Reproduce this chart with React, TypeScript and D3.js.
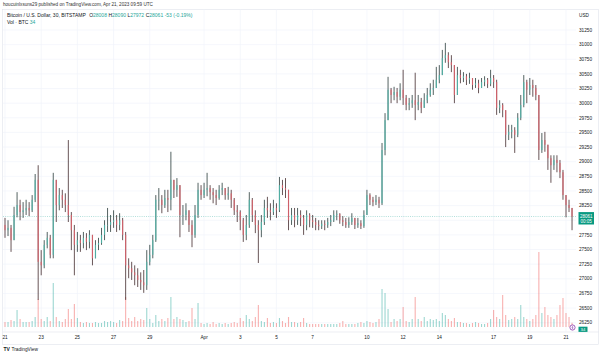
import React from "react";
import * as d3 from "d3";

const W = 600;
const H = 357;

const firstCandleTime = "2023-03-20T20:00:00Z";
const candleHours = 4;
const firstOpen = 27900;

const closes = [
  27920, 27830, 27870, 27660, 28090, 28260, 28140, 28170, 28210, 28170,
  28350, 28690, 27290, 27230, 27580, 27700, 27410, 28690, 28260, 28430,
  28350, 28260, 28090, 27830, 27580, 27660, 27610, 27700, 27630, 27750,
  27350, 27580, 27610, 27750, 27920, 27920, 27970, 28000, 27920, 28000,
  27750, 27230, 27180, 27110, 27060, 26980, 26940, 26890, 27290, 27410,
  27660, 28350, 28350, 28260, 28380, 28350, 28690, 28520, 28600, 28090,
  28090, 28170, 27920, 27750, 28090, 28520, 28430, 28520, 28550, 28480,
  28430, 28380, 28520, 28550, 28430, 28460, 28350, 28170, 28140, 28000,
  27750, 27920, 28350, 28090, 27920, 27830, 27970, 28210, 28170, 28140,
  28210, 28170, 28600, 28550, 28520, 28000, 28090, 28000, 28090, 28040,
  27920, 28090, 28000, 27970, 27920, 27900, 27940, 27920, 27970, 28000,
  28090, 28110, 28000, 27970, 27920, 27970, 28040, 27920, 27950, 27900,
  28090, 28430, 28350, 28310, 28350, 28290, 29200, 29710, 30230, 30140,
  30190, 30110, 30230, 30090, 29970, 30000, 30050, 29970, 30020, 29920,
  30050, 30140, 30230, 30260, 30400, 30480, 30770, 30820, 30700, 30650,
  30140, 30480, 30430, 30460, 30400, 30430, 30310, 30340, 30260, 30360,
  30400, 30330, 30430, 30360, 29920, 29970, 29880, 29460, 29510, 29540,
  29460, 29750, 29970, 30360, 30230, 30310, 30260, 30140, 29200, 29370,
  29290, 29060, 28940, 29030, 28980, 28820, 28430, 28260, 28210, 28061,
];

const highs = [
  28090, 28040, 28000, 27920, 28230, 28480, 28350, 28310, 28350, 28310,
  28430, 28790, 28940, 27490, 27660, 27800, 27750, 28810, 28600, 28550,
  28520, 28460, 29370, 28140, 27920, 27800, 27750, 27800, 27780, 27830,
  27750, 27660, 27700, 27870, 28000, 28210, 28090, 28170, 28090, 28120,
  28040, 27800, 27350, 27290, 27230, 27180, 27110, 27150, 27490, 27580,
  27750, 28430, 28550, 28430, 28520, 28520, 29170, 28690, 28720, 28520,
  28260, 28290, 28170, 28000, 28260, 28640, 28600, 28640, 28810, 28600,
  28550, 28520, 28600, 28640, 28550, 28570, 28520, 28380, 28260, 28170,
  28040, 28090, 28480, 28380, 28170, 28000, 28090, 28350, 28400, 28290,
  28350, 28290, 28740, 28690, 28720, 28520, 28210, 28210, 28210, 28170,
  28090, 28170, 28120, 28090, 28040, 28000, 28000, 28000, 28040, 28090,
  28170, 28170, 28120, 28070, 28040, 28050, 28120, 28040, 28040, 28000,
  28170, 28520, 28460, 28400, 28430, 28400, 29320, 29830, 30450, 30260,
  30280, 30260, 30340, 30570, 30140, 30090, 30140, 30520, 30140, 30090,
  30170, 30260, 30340, 30400, 30620, 30650, 30910, 31030, 30870, 30820,
  30650, 30620, 30570, 30530, 30500, 30520, 30430, 30430, 30400, 30430,
  30460, 30430, 30570, 30480, 30400, 30050, 30000, 29880, 29630, 29630,
  29590, 29830, 30140, 30480, 30400, 30430, 30400, 30310, 30140, 29490,
  29510, 29290, 29110, 29110, 29110, 29030, 28860, 28380, 28350, 28170,
];

const lows = [
  27750, 27700, 27730, 27460, 27660, 28050, 28000, 28040, 28090, 28070,
  28140, 28310, 26640, 27060, 27180, 27520, 27350, 27350, 27970, 28170,
  28210, 28140, 27970, 27490, 27060, 27460, 27460, 27520, 27490, 27520,
  27230, 27410, 27490, 27580, 27660, 27800, 27800, 27870, 27800, 27830,
  27660, 26640, 27010, 26980, 26890, 26860, 26810, 26760, 26810, 27230,
  27350, 27630, 28170, 28120, 28210, 28140, 28170, 28380, 28400, 27710,
  27920, 28000, 27800, 27540, 27700, 28040, 28350, 28380, 28410, 28350,
  28290, 28260, 28350, 28430, 28350, 28350, 28210, 28090, 27970, 27830,
  27630, 27660, 27870, 27970, 27780, 27270, 27710, 27920, 28040, 28000,
  28090, 28040, 28140, 28430, 28380, 27830, 27920, 27880, 27920, 27900,
  27750, 27830, 27880, 27870, 27830, 27830, 27850, 27830, 27870, 27900,
  27970, 28000, 27940, 27900, 27870, 27870, 27920, 27850, 27870, 27850,
  27870, 28140, 28260, 28240, 28260, 28210, 28260, 29110, 29710, 30000,
  30050, 30000, 30050, 29970, 29880, 29880, 29920, 29710, 29880, 29830,
  29930, 30000, 30110, 30140, 30260, 30340, 30650, 30690, 30600, 30530,
  30000, 30140, 30340, 30360, 30310, 30330, 30230, 30260, 30170, 30260,
  30290, 30260, 30290, 30260, 29800, 29830, 29760, 29250, 29370, 29400,
  29150, 29420, 29710, 29930, 30000, 30140, 30110, 30050, 29030, 29150,
  29170, 28860, 28640, 28860, 28820, 28720, 28350, 28050, 28140, 27830,
];

const volumes = [
  48, 40, 40, 56, 48, 136, 64, 40, 40, 40,
  48, 80, 224, 64, 48, 80, 48, 352, 80, 48,
  40, 64, 144, 64, 184, 72, 40, 32, 40, 32,
  32, 40, 32, 32, 48, 40, 48, 40, 32, 56,
  48, 240, 72, 48, 80, 48, 64, 56, 152, 64,
  32, 96, 48, 64, 48, 72, 240, 64, 80, 64,
  56, 40, 48, 152, 64, 192, 32, 24, 32, 24,
  40, 24, 32, 24, 32, 24, 32, 40, 32, 72,
  48, 96, 64, 48, 80, 176, 48, 40, 72, 32,
  40, 32, 72, 48, 32, 80, 40, 40, 32, 40,
  72, 32, 24, 24, 24, 24, 24, 24, 24, 24,
  24, 24, 32, 48, 24, 24, 24, 24, 32, 40,
  32, 48, 40, 32, 40, 64, 304, 272, 144, 40,
  64, 48, 64, 160, 48, 40, 64, 240, 64, 48,
  80, 48, 64, 56, 64, 48, 112, 96, 64, 48,
  72, 40, 40, 32, 32, 24, 32, 40, 32, 24,
  24, 32, 64, 136, 80, 64, 256, 96, 56, 64,
  80, 64, 176, 80, 64, 48, 64, 96, 600, 112,
  160, 96, 80, 64, 96, 176, 232, 112, 80, 34,
];

const priceTicks = [
  26250, 26500, 26750, 27000, 27250, 27500, 27750, 28000, 28250, 28500,
  28750, 29000, 29250, 29500, 29750, 30000, 30250, 30500, 30750, 31000, 31250,
];

const dateTickTimes = [
  "2023-03-21", "2023-03-23", "2023-03-25", "2023-03-27", "2023-03-29",
  "2023-04-01", "2023-04-03", "2023-04-05", "2023-04-07", "2023-04-10",
  "2023-04-12", "2023-04-14", "2023-04-17", "2023-04-19", "2023-04-21",
];
const dateTickLabels = ["21", "23", "25", "27", "29", "Apr", "3", "5", "7", "10", "12", "14", "17", "19", "21"];

const lastPrice = 28061;
const lastVolume = 34;
const legendOHLC = { O: "28008", H: "28090", L: "27972", C: "28061" };
const legendChange = "-53 (-0.19%)";

const FONT = "'Liberation Sans', Arial, sans-serif";
const UP = "#26a69a";
const DOWN = "#ef5350";
const TEXT = "#131722";

export default function App() {
  const plot = { left: 3, right: 576, top: 9.5, bottom: 332 };

  const x = d3
    .scaleUtc()
    .domain([new Date("2023-03-21T00:00:00Z"), new Date("2023-04-21T00:00:00Z")])
    .range([5, 566]);
  const y = d3.scaleLinear().domain([26250, 31250]).range([322.7, 30]);
  const v = d3.scaleLinear().domain([0, 600]).range([327, 252]);

  const t0 = new Date(firstCandleTime).getTime();
  const candles = closes.map((c, i) => {
    const o = i === 0 ? firstOpen : closes[i - 1];
    return {
      t: new Date(t0 + i * candleHours * 3600e3),
      o,
      c,
      h: Math.max(highs[i], o, c),
      l: Math.min(lows[i], o, c),
      vol: volumes[i],
    };
  });

  const bodyW = 1.15;
  const volW = 1.1;

  const labelTop = y(lastPrice) - 4.6;
  const labelBottom = labelTop + 12.4;
  const visibleTicks = priceTicks.filter((p) => y(p) < labelTop - 1 || y(p) > labelBottom + 1);

  const volLabelY = 329.3;

  return (
    <svg
      width={W}
      height={H}
      viewBox={`0 0 ${W} ${H}`}
      style={{ position: "absolute", left: 0, top: 0, background: "#fff", fontFamily: FONT }}
    >
      <defs>
        <clipPath id="plotClip">
          <rect x={plot.left} y={plot.top} width={plot.right - plot.left} height={plot.bottom - plot.top} />
        </clipPath>
      </defs>
      <rect x={0} y={0} width={W} height={H} fill="#fff" />

      {/* header */}
      <text x={3} y={5.6} fontSize={4.6} fill="#333">
        houcuinlxsuns29 published on TradingView.com, Apr 21, 2023 09:59 UTC
      </text>

      {/* frame */}
      <rect x={2.5} y={plot.top} width={596} height={335} fill="none" stroke="#e0e3eb" strokeWidth={0.6} />
      <line x1={plot.left} x2={598.5} y1={plot.bottom} y2={plot.bottom} stroke="#e0e3eb" strokeWidth={0.6} />

      {/* grid */}
      <g stroke="#f0f3fa" strokeWidth={0.7}>
        {priceTicks.map((p) => (
          <line key={"h" + p} x1={plot.left} x2={plot.right} y1={y(p)} y2={y(p)} />
        ))}
        {dateTickTimes.map((d) => (
          <line key={"v" + d} x1={x(new Date(d + "T00:00:00Z"))} x2={x(new Date(d + "T00:00:00Z"))} y1={plot.top} y2={plot.bottom} />
        ))}
      </g>

      <g clipPath="url(#plotClip)">
        {/* volume */}
        {candles.map((d, i) => (
          <rect
            key={"vol" + i}
            x={x(d.t) - volW / 2}
            y={v(d.vol)}
            width={volW}
            height={v(0) - v(d.vol)}
            fill={d.c >= d.o ? UP : DOWN}
            opacity={0.45}
          />
        ))}

        {/* last price line */}
        <line
          x1={plot.left}
          x2={plot.right}
          y1={y(lastPrice)}
          y2={y(lastPrice)}
          stroke={UP}
          strokeWidth={0.6}
          strokeDasharray="1 1.2"
          opacity={0.7}
        />

        {/* candles */}
        {candles.map((d, i) => {
          const up = d.c >= d.o;
          const cx = x(d.t);
          const top = y(Math.max(d.o, d.c));
          const bot = y(Math.min(d.o, d.c));
          return (
            <g key={"c" + i}>
              <line x1={cx} x2={cx} y1={y(d.h)} y2={y(d.l)} stroke={up ? "#1b2f2d" : "#351c1f"} strokeWidth={0.75} />
              <rect
                x={cx - bodyW / 2}
                y={top}
                width={bodyW}
                height={Math.max(0.6, bot - top)}
                fill={up ? "#4fb5a9" : "#d9606a"}
                opacity={0.9}
              />
            </g>
          );
        })}
      </g>

      {/* legend */}
      <text x={7} y={17} fontSize={5} fill={TEXT}>
        <tspan>Bitcoin / U.S. Dollar, 30, BITSTAMP </tspan>
        <tspan dx={2}>O</tspan>
        <tspan fill={UP}>{legendOHLC.O}</tspan>
        <tspan dx={1.5}>H</tspan>
        <tspan fill={UP}>{legendOHLC.H}</tspan>
        <tspan dx={1.5}>L</tspan>
        <tspan fill={UP}>{legendOHLC.L}</tspan>
        <tspan dx={1.5}>C</tspan>
        <tspan fill={UP}>{legendOHLC.C}</tspan>
        <tspan dx={1.5} fill={UP}>{legendChange}</tspan>
      </text>
      <text x={7} y={24.3} fontSize={5} fill={TEXT}>
        <tspan>Vol · BTC </tspan>
        <tspan fill={UP}>{lastVolume}</tspan>
      </text>

      {/* price axis */}
      <text x={579} y={17.4} fontSize={4.7} fill={TEXT}>USD</text>
      {visibleTicks.map((p) => (
        <text key={"pl" + p} x={579} y={y(p) + 1.7} fontSize={4.7} fill={TEXT}>
          {p}
        </text>
      ))}

      {/* last price label */}
      <rect x={578.5} y={labelTop} width={15.5} height={12.4} fill="#089981" />
      <text x={586.2} y={y(lastPrice) + 1.5} fontSize={4.5} fill="#fff" textAnchor="middle">
        {lastPrice}
      </text>
      <text x={586.2} y={y(lastPrice) + 6.4} fontSize={4.5} fill="#fff" textAnchor="middle">
        00:05
      </text>

      {/* volume label */}
      <rect x={578.5} y={volLabelY - 2.6} width={9} height={5.2} fill="#089981" />
      <text x={583} y={volLabelY + 1.6} fontSize={4.3} fill="#fff" textAnchor="middle">
        {lastVolume}
      </text>

      {/* event marker */}
      <circle cx={572.5} cy={327.5} r={2.6} fill="#fff" stroke="#7b1fa2" strokeWidth={0.7} />
      <path d="M572.9,325.9 L571.9,327.7 L573.1,327.7 L572.1,329.3" fill="none" stroke="#7b1fa2" strokeWidth={0.5} />

      {/* time axis */}
      {dateTickTimes.map((d, i) => (
        <text
          key={"dl" + d}
          x={x(new Date(d + "T00:00:00Z"))}
          y={339.3}
          fontSize={4.7}
          fill={TEXT}
          textAnchor="middle"
        >
          {dateTickLabels[i]}
        </text>
      ))}

      {/* logo */}
      <text x={3.5} y={351} fontSize={5} fill={TEXT} fontWeight="bold">TV</text>
      <text x={11.5} y={351} fontSize={4.8} fill={TEXT}>TradingView</text>
    </svg>
  );
}
